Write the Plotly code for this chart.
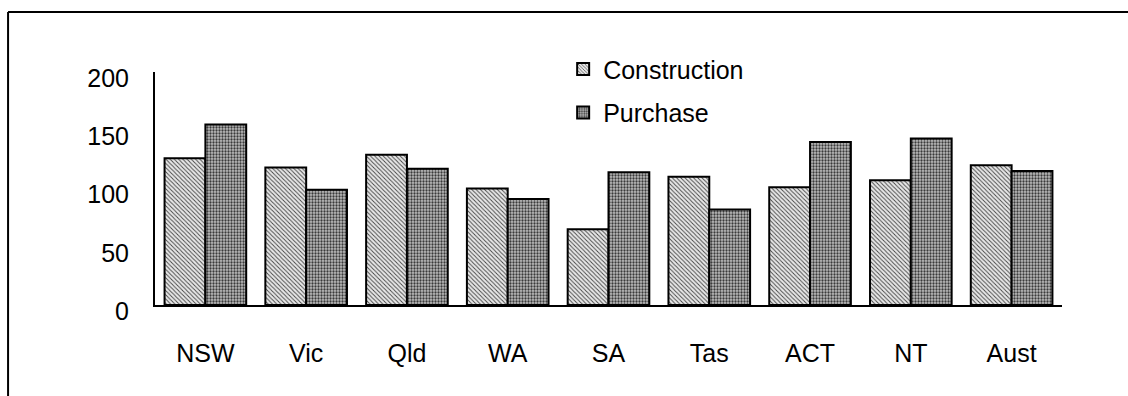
import plotly.graph_objects as go

# Index values by state / territory
states = ["NSW", "Vic", "Qld", "WA", "SA", "Tas", "ACT", "NT", "Aust"]
construction = [126, 118, 129, 100, 65, 110, 101, 107, 120]
purchase = [155, 99, 117, 91, 114, 82, 140, 143, 115]
y_ticks = [0, 50, 100, 150, 200]

FONT = "Liberation Sans, Arial, sans-serif"
FS = 25

fig = go.Figure()
fig.add_trace(go.Bar(
    x=states, y=construction, name="Construction", legendgroup="c",
    marker=dict(
        color="white",
        line=dict(color="black", width=2),
        pattern=dict(shape="\\", fgcolor="#444444", bgcolor="#e8e8e8",
                     size=3, solidity=0.3, fillmode="replace"),
    ),
))
fig.add_trace(go.Bar(
    x=states, y=purchase, name="Purchase", legendgroup="p",
    marker=dict(
        color="white",
        line=dict(color="black", width=2),
        pattern=dict(shape=".", fgcolor="#3a3a3a", bgcolor="#bdbdbd",
                     size=3, solidity=0.45, fillmode="replace"),
    ),
))

# outer frame: top and left edges
fig.add_shape(type="line", xref="paper", yref="paper",
              x0=-0.162, x1=1.2, y0=1.2575, y1=1.2575,
              line=dict(color="black", width=2))
fig.add_shape(type="line", xref="paper", yref="paper",
              x0=-0.162, x1=-0.162, y0=1.2575, y1=-0.5,
              line=dict(color="black", width=2))

fig.update_layout(
    width=1128, height=396,
    margin=dict(l=155, r=66, t=72, b=91),
    paper_bgcolor="white", plot_bgcolor="white",
    barmode="group", bargap=0.19, bargroupgap=0.0,
    font=dict(family=FONT, size=FS, color="black"),
    showlegend=True,
    legend=dict(x=0.45, y=1.11, xanchor="left", yanchor="top",
                bgcolor="rgba(0,0,0,0)", tracegroupgap=8,
                font=dict(family=FONT, size=FS)),
    xaxis=dict(showline=True, linecolor="black", linewidth=2,
               ticks="", showgrid=False, ticklabelstandoff=25,
               tickfont=dict(family=FONT, size=FS)),
    yaxis=dict(range=[0, 200], tickvals=y_ticks, showline=True,
               linecolor="black", linewidth=2, ticks="", showgrid=False,
               zeroline=False, ticklabelstandoff=19, ticklabelshift=6,
               tickfont=dict(family=FONT, size=FS)),
)

fig.write_html("out.html")
